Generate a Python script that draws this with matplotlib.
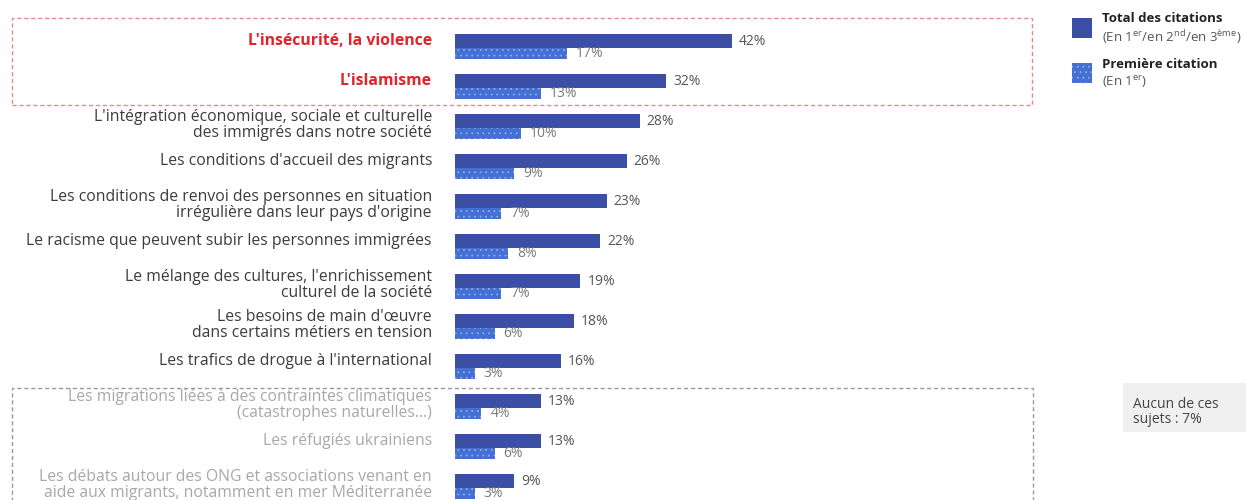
import matplotlib.pyplot as plt
from matplotlib.patches import Rectangle

plt.rcParams['font.family'] = ['Open Sans', 'DejaVu Sans']
plt.rcParams['mathtext.fontset'] = 'custom'
plt.rcParams['mathtext.rm'] = 'Open Sans'
plt.rcParams['hatch.linewidth'] = 0.6

# ── Données ─────────────────────────────────────────
labels = [
    "L'insécurité, la violence",
    "L'islamisme",
    "L'intégration économique, sociale et culturelle\ndes immigrés dans notre société",
    "Les conditions d'accueil des migrants",
    "Les conditions de renvoi des personnes en situation\nirrégulière dans leur pays d'origine",
    "Le racisme que peuvent subir les personnes immigrées",
    "Le mélange des cultures, l'enrichissement\nculturel de la société",
    "Les besoins de main d'œuvre\ndans certains métiers en tension",
    "Les trafics de drogue à l'international",
    "Les migrations liées à des contraintes climatiques\n(catastrophes naturelles…)",
    "Les réfugiés ukrainiens",
    "Les débats autour des ONG et associations venant en\naide aux migrants, notamment en mer Méditerranée",
]
total = [42, 32, 28, 26, 23, 22, 19, 18, 16, 13, 13, 9]
first = [17, 13, 10, 9, 7, 8, 7, 6, 3, 4, 6, 3]
label_group = ["red", "red"] + ["normal"] * 7 + ["grey"] * 3

DARK = "#3b4fa6"
LIGHT = "#4470d2"
DOTS = "#8eaaf0"
label_colors = {"red": "#e3222b", "normal": "#3c3c3c", "grey": "#a8a8a8"}

W, H = 1246, 500
fig = plt.figure(figsize=(W / 100, H / 100), dpi=100)
fig.patch.set_facecolor("white")

# axes : de x=455 px à 1040 px, toute la hauteur
PX = 6.6  # pixels par %
ax = fig.add_axes([455 / W, 0, (1040 - 455) / W, 1])
ax.set_xlim(0, (1040 - 455) / PX)
ax.set_ylim(H / 40, 0)
ax.axis("off")

for i, (lab, t, f, g) in enumerate(zip(labels, total, first, label_group)):
    yc = 1.2 + i
    ax.barh(yc - 0.175, t, height=0.35, color=DARK, linewidth=0)
    ax.barh(yc + 0.1375, f, height=0.275, color=LIGHT, edgecolor=DOTS,
            hatch="...", linewidth=0)
    ax.text(t + 7 / PX, yc - 0.17, f"{t}%", fontsize=10, color="#555555",
            va="center", ha="left")
    ax.text(f + 9 / PX, yc + 0.14, f"{f}%", fontsize=10, color="#7a7a7a",
            va="center", ha="left")
    ly = yc - 0.08 if "\n" in lab else yc - 0.175
    ax.text(-23 / PX, ly, lab, ha="right", va="center", fontsize=11.3,
            color=label_colors[g], fontweight="bold" if g == "red" else "normal",
            linespacing=1.02, clip_on=False)


def px_rect(x0, y0, x1, y1, **kw):
    fig.add_artist(Rectangle((x0 / W, 1 - y1 / H), (x1 - x0) / W, (y1 - y0) / H,
                             transform=fig.transFigure, fill=False, **kw))


px_rect(12, 18, 1032, 105, edgecolor="#e48a90", linestyle=(0, (3, 2)), linewidth=1.0)
px_rect(12, 388, 1033, 520, edgecolor="#9a9a9a", linestyle=(0, (3, 2)), linewidth=1.0)

# ── Légende ─────────────────────────────────────────
fig.add_artist(Rectangle((1072 / W, 1 - 38 / H), 20 / W, 20 / H,
                         transform=fig.transFigure, color=DARK, linewidth=0))
fig.add_artist(Rectangle((1072 / W, 1 - 83 / H), 20 / W, 20 / H,
                         transform=fig.transFigure, facecolor=LIGHT,
                         edgecolor=DOTS, hatch="...", linewidth=0))
fig.text(1102 / W, 1 - 19 / H, "Total des citations", fontsize=9.5,
         fontweight="bold", color="#222222", va="center")
fig.text(1102 / W, 1 - 37 / H,
         r"(En 1$^{\rm er}$/en 2$^{\rm nd}$/en 3$^{\rm ème}$)",
         fontsize=9.5, color="#555555", va="center")
fig.text(1102 / W, 1 - 64 / H, "Première citation", fontsize=9.5,
         fontweight="bold", color="#222222", va="center")
fig.text(1102 / W, 1 - 82 / H, r"(En 1$^{\rm er}$)", fontsize=9.5,
         color="#555555", va="center")

# encadré « Aucun »
fig.add_artist(Rectangle((1123 / W, 1 - 432 / H), 123 / W, 49 / H,
                         transform=fig.transFigure, color="#f0f0f0", linewidth=0))
fig.text(1133 / W, 1 - 412 / H, "Aucun de ces\nsujets : 7%", fontsize=10,
         color="#444444", va="center", linespacing=1.05)

fig.savefig("out.png", dpi=100)
